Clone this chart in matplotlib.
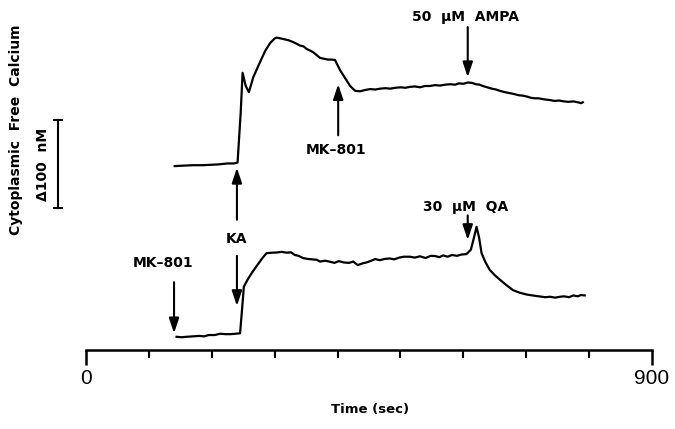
import matplotlib
matplotlib.use("Agg")
import matplotlib.pyplot as plt
from matplotlib.ticker import FixedLocator

plt.rcParams['font.family'] = ['DejaVu Sans']

# Time (sec) and vertical position (nM, trace offsets included)
top_t = [141, 155, 170, 185, 200, 212, 225, 235, 241, 246, 249, 254, 259, 266, 276, 285, 293,
         300, 303, 310, 316, 322, 329, 335, 340, 346, 351, 357, 362, 367, 372, 378, 385,
         391, 396, 404, 412, 420, 428, 436, 444, 452, 460, 468, 476, 484, 492, 500, 508,
         515, 523, 531, 539, 547, 555, 563, 571, 579, 587, 593, 600, 607, 614, 620, 626,
         631, 638, 645, 652, 658, 666, 673, 680, 688, 695, 701, 708, 714, 720, 727, 732,
         738, 745, 752, 760, 767, 775, 782, 787, 790]
top_y = [209, 209.5, 210, 210, 210.5, 211, 212, 212, 213, 270, 315, 300, 293, 310, 326, 340, 349,
         354, 355, 354, 353, 352, 350, 348, 346, 345, 342, 340, 338, 335, 332, 331, 330,
         330, 329.5, 318, 309, 300, 294.5, 294, 295.5, 296.5, 296, 297, 297.5, 297, 298, 298.5, 298,
         299, 299.5, 298.5, 300, 300, 301, 300.5, 301.5, 302, 301.5, 303, 302.5, 304, 303.5, 302, 301.5,
         300, 298.5, 297, 296, 294.5, 293, 292, 291, 289.5, 289, 288, 286.5, 286, 286, 285, 284.5,
         284, 283, 283.5, 282.5, 282, 282.5, 281.5, 280.5, 281.5]

bot_t = [144, 152, 160, 170, 180, 188, 195, 205, 213, 222, 230, 238, 245, 248, 251, 257, 264,
         271, 280, 287, 295, 303, 311, 319, 326, 332, 338, 345, 352, 360, 367, 372, 380,
         388, 395, 402, 410, 418, 425, 432, 440, 446, 452, 460, 467, 475, 483, 490, 498,
         505, 515, 523, 531, 540, 548, 555, 562, 568, 575, 582, 590, 597, 605, 612, 617,
         621, 625, 629, 635, 642, 650, 658, 668, 679, 690, 701, 710, 720, 730, 738, 746,
         754, 760, 768, 775, 782, 787, 793]
bot_y = [15, 14.5, 15, 15.5, 16, 15.5, 17, 17, 18.5, 18, 18, 18.5, 19, 45, 72, 80, 88,
         95, 104, 110, 110.5, 110.8, 111.5, 110.6, 111, 108, 107, 104.5, 103.5, 103, 102.5, 100.5, 101.5,
         100.3, 99, 101, 99.5, 99, 100.5, 96.5, 98.5, 99.5, 101, 103.4, 102, 103.5, 104, 103, 105,
         106, 106, 105, 106.5, 104.5, 107, 106.8, 105.5, 107.5, 106, 108, 107, 108.5, 109, 114, 128,
         140, 128, 110, 100, 91, 85, 80, 74, 68, 65, 63, 62, 61, 60, 60.5, 59.5,
         60.5, 61, 60, 62, 61, 62.5, 62]

x_ticks = [0, 100, 200, 300, 400, 500, 600, 700, 800, 900]
x_labels = ['0', '900']

fig = plt.figure(figsize=(6.75, 4.29), dpi=100)
ax = fig.add_axes([86/675, 79/429, 566/675, 350/429])
ax.set_xlim(0, 900)
ax.set_ylim(0, 350/0.88)

ax.plot(top_t, top_y, color='black', lw=1.6, solid_joinstyle='round')
ax.plot(bot_t, bot_y, color='black', lw=1.6, solid_joinstyle='round')

for s in ['top', 'right', 'left']:
    ax.spines[s].set_visible(False)
ax.spines['bottom'].set_linewidth(1.8)
ax.set_yticks([])
ax.xaxis.set_major_locator(FixedLocator([0, 900]))
ax.xaxis.set_minor_locator(FixedLocator(x_ticks[1:-1]))
ax.set_xticklabels(x_labels, fontsize=15, family=['Liberation Sans'])
ax.tick_params(axis='x', which='major', length=11, width=1.8, pad=3)
ax.tick_params(axis='x', which='minor', length=6, width=1.5)

fig.text(370/675, 1-409/429, 'Time (sec)', fontsize=9.5, fontweight='bold',
         ha='center', va='center')

aprops = dict(arrowstyle='-|>,head_length=0.9,head_width=0.3', color='black', lw=1.5,
              shrinkA=0, shrinkB=0)
def arrow(x, y0, y1):
    ax.annotate('', xy=(x, y1), xytext=(x, y0), arrowprops=aprops)

tkw = dict(fontsize=10, fontweight='bold', ha='center', va='center')
# 50 uM AMPA
ax.text(603, 378, '50  μM  AMPA', **tkw)
arrow(607, 367, 310)
# top MK-801
ax.text(397, 227, 'MK–801', **tkw)
arrow(401, 244, 302)
# KA
ax.text(240, 126, 'KA', **tkw)
arrow(240, 148, 207)
arrow(240, 107, 50)
# bottom MK-801
ax.text(122, 99, 'MK–801', **tkw)
arrow(140, 77, 19)
# 30 uM QA
ax.text(604, 162, '30  μM  QA', **tkw)
arrow(607, 153, 125)

# scale bar (100 nM)
sb_x = 58
ax_l = 86
sx = (sb_x - ax_l) / 0.6289
ax.plot([sx, sx], [(350-208)/0.88, (350-120)/0.88], color='black', lw=1.5, clip_on=False)
for yy in [(350-208)/0.88, (350-120)/0.88]:
    ax.plot([sx-6.5, sx+6.5], [yy, yy], color='black', lw=1.5, clip_on=False)

fig.text(43/675, 1-164/429, 'Δ100  nM', rotation=90, fontsize=10, fontweight='bold',
         ha='center', va='center')
fig.text(16/675, 1-130/429, 'Cytoplasmic  Free  Calcium', rotation=90, fontsize=10,
         fontweight='bold', ha='center', va='center')

fig.savefig('out.png', dpi=100)
